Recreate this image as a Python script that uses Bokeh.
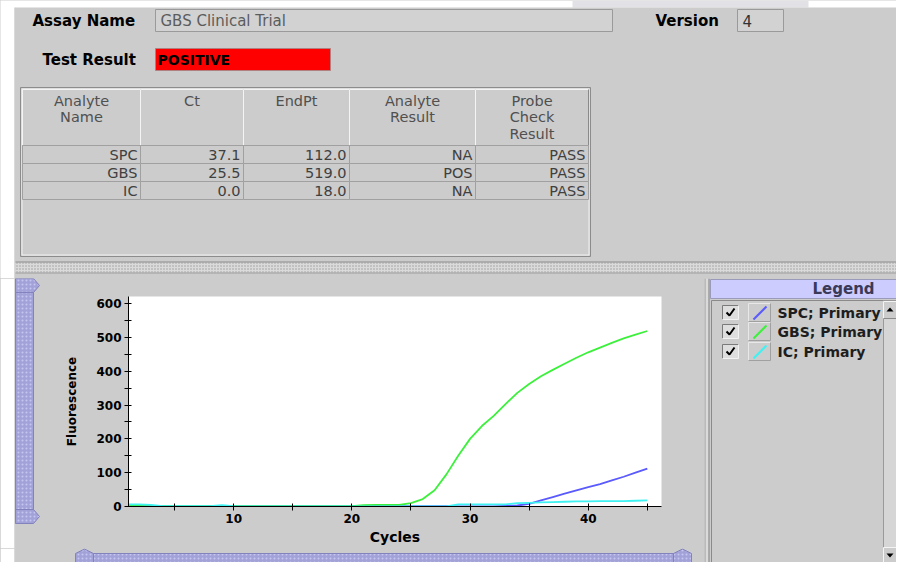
from bokeh.plotting import figure
from bokeh.layouts import column, row
from bokeh.models import Range1d, FixedTicker
from bokeh.core.properties import value
from bokeh.embed import file_html
from bokeh.resources import INLINE

# ---------------- data ----------------
cycles = list(range(1, 46))
spc = [1, 1, 1, 1, 1, 1, 1, 1, 1, 1, 1, 1, 1, 1, 1, 1, 1, 1, 1, 1,
       1, 1, 1, 1, 1, 1, 1, 1, 0, 0, 0, 0, 2, 3, 8,
       18, 28, 38, 48, 57, 66, 77, 88, 100, 112]
gbs = [2, 2, 1, 1, 1, 1, 1, 1, 2, 1, 1, 1, 1, 1, 1, 1, 1, 1, 1, 1,
       4, 5, 5, 5, 10, 22, 48, 95, 150, 200, 238, 268, 303, 336, 362,
       385, 404, 422, 440, 456, 470, 484, 497, 508, 519]
ic = [6, 6, 5, 1, 1, 1, 1, 1, 4, 1, 0, 0, 0, 0, 0, 0, 0, 0, 0, 0,
      0, 0, 0, 0, 0, 0, 0, 0, 6, 6, 6, 6, 6, 10, 11,
      12, 13, 14, 15, 15, 16, 16, 16, 17, 18]
series = [spc, gbs, ic]
series_colors = ["#5a5aff", "#3cf03c", "#3ef2f2"]
legend_labels = ["SPC; Primary", "GBS; Primary", "IC; Primary"]

y_ticks = [0, 100, 200, 300, 400, 500, 600]
y_minor = [50, 150, 250, 350, 450, 550]
x_ticks = [10, 20, 30, 40]
x_minor = [5, 15, 25, 35, 45]

assay_name = "GBS Clinical Trial"
version = "4"
test_result = "POSITIVE"
table_headers = ["Analyte\nName", "Ct", "EndPt", "Analyte\nResult", "Probe\nCheck\nResult"]
analytes = ["SPC", "GBS", "IC"]
ct_values = [37.1, 25.5, 0.0]
endpt_values = [112.0, 519.0, 18.0]
analyte_results = ["NA", "POS", "NA"]
probe_checks = ["PASS", "PASS", "PASS"]

# ---------------- styles ----------------
GRAY = "#cccccc"
LAV = "#a2a2d8"
LAV_DOT = "#c6c6f0"
LAV_EDGE = "#8282bc"
FONT = value("DejaVu Sans")


def deco_fig(x0, x1, y0, y1, bg=GRAY):
    p = figure(width=x1 - x0, height=y1 - y0,
               x_range=Range1d(x0, x1), y_range=Range1d(y1, y0),
               x_axis_location=None, y_axis_location=None,
               output_backend="svg", toolbar_location=None, min_border=0)
    p.grid.visible = False
    p.outline_line_color = None
    p.background_fill_color = bg
    p.border_fill_color = bg
    p.frame_align = False
    return p


def txt(p, x, y, s, size="15px", bold=False, color="#000000", align="left"):
    p.text(x=[x], y=[y], text=[s], text_font=FONT, text_font_size=size,
           text_font_style="bold" if bold else "normal", text_color=color,
           text_align=align, text_baseline="middle")


def raised(p, x0, x1, y0, y1, fill=GRAY, light="#f4f4f4", dark="#8a8a8a"):
    p.quad(left=[x0], right=[x1], top=[y0], bottom=[y1], fill_color=fill, line_color=None)
    p.multi_line(xs=[[x0, x0, x1], [x0, x1, x1]], ys=[[y1, y0, y0], [y1, y1, y0]],
                 line_color=[light, dark], line_width=1)


def sunken(p, x0, x1, y0, y1, fill=GRAY):
    raised(p, x0, x1, y0, y1, fill=fill, light="#7a7a7a", dark="#f2f2f2")


# ---------------- top panel ----------------
top = deco_fig(0, 896, 0, 278, bg="#ffffff")
top.quad(left=[572], right=[808], top=[0], bottom=[7], fill_color="#e2e2e6", line_color=None)
top.quad(left=[15], right=[896], top=[7], bottom=[278], fill_color=GRAY, line_color=None)
top.line(x=[14.5, 14.5], y=[7, 278], line_color="#b4b4b4")

txt(top, 32, 20, "Assay Name", bold=True)
top.quad(left=[155], right=[612], top=[9], bottom=[31], fill_color="#d2d2d2", line_color="#9a9a9a")
txt(top, 160, 20, assay_name, color="#5c5c5c")

txt(top, 655, 20, "Version", bold=True)
top.quad(left=[737], right=[783], top=[9], bottom=[31], fill_color="#d2d2d2", line_color="#9a9a9a")
txt(top, 742, 20, version, color="#333333")

txt(top, 42, 59, "Test Result", bold=True)
top.quad(left=[155], right=[330], top=[48], bottom=[70], fill_color="#ff0000", line_color="#b08080")
txt(top, 157, 59, test_result, bold=True, color="#000000", size="14px")

# table
cols = [22, 140, 243, 349, 475, 588]
top.quad(left=[20], right=[590], top=[87], bottom=[256], fill_color=GRAY, line_color="#8c8c8c")
top.quad(left=[21.5], right=[588.5], top=[88.5], bottom=[254.5], fill_color=None, line_color="#f0f0f0")
for i, h in enumerate(table_headers):
    raised(top, cols[i], cols[i + 1], 89, 145)
    cx = (cols[i] + cols[i + 1]) / 2
    for k, line in enumerate(h.split("\n")):
        txt(top, cx, 100 + 16.5 * k, line, color="#505050", align="center", size="14.5px")

row_tops = [145, 163, 181]
cells = [analytes, ["%.1f" % v for v in ct_values], ["%.1f" % v for v in endpt_values],
         analyte_results, probe_checks]
for r, yt in enumerate(row_tops):
    for i in range(5):
        top.quad(left=[cols[i]], right=[cols[i + 1]], top=[yt], bottom=[yt + 18],
                 fill_color=GRAY, line_color="#a0a0a0")
        txt(top, cols[i + 1] - 3, yt + 9.5, cells[i][r], color="#404040", align="right",
            size="14.5px")

# split divider
top.quad(left=[15], right=[896], top=[262], bottom=[272], fill_color="#dadada",
         line_color=None, hatch_pattern=".", hatch_color="#9a9a9a", hatch_scale=3)
top.multi_line(xs=[[15, 896], [15, 896]], ys=[[261.5, 261.5], [272.5, 272.5]],
               line_color=["#8c8c8c", "#9c9c9c"], line_width=1)

# ---------------- left vertical slider ----------------
left = deco_fig(0, 40, 278, 548)
left.quad(left=[0], right=[15], top=[278], bottom=[548], fill_color="#ffffff", line_color=None)
left.line(x=[14.5, 14.5], y=[278, 548], line_color="#b4b4b4")
left.quad(left=[15], right=[33], top=[291], bottom=[510], fill_color=LAV, line_color=LAV_EDGE,
          hatch_pattern=".", hatch_color=LAV_DOT, hatch_scale=4)
left.patches(xs=[[15, 33, 39, 33, 15], [15, 33, 39, 33, 15]],
             ys=[[278, 278, 285, 292, 292], [509, 509, 516, 523, 523]],
             fill_color=LAV, line_color=LAV_EDGE,
             hatch_pattern=".", hatch_color=LAV_DOT, hatch_scale=4)

# ---------------- chart ----------------
chart = figure(width=664, height=270, x_range=Range1d(1.1, 46.2), y_range=Range1d(0, 621),
               output_backend="svg", toolbar_location=None,
               min_border_left=88, min_border_right=43, min_border_top=18, min_border_bottom=42)
chart.frame_align = False
chart.background_fill_color = "#ffffff"
chart.border_fill_color = GRAY
chart.outline_line_color = None
chart.grid.visible = False
for s, c in zip(series, series_colors):
    chart.line(cycles, s, line_color=c, line_width=1.8)

chart.xaxis.ticker = FixedTicker(ticks=x_ticks, minor_ticks=x_minor)
chart.yaxis.ticker = FixedTicker(ticks=y_ticks, minor_ticks=y_minor)
chart.xaxis.axis_label = "Cycles"
chart.yaxis.axis_label = "Fluorescence"
for ax in (chart.xaxis[0], chart.yaxis[0]):
    ax.axis_line_color = "#000000"
    ax.major_tick_line_color = "#000000"
    ax.minor_tick_line_color = "#000000"
    ax.major_tick_in = 3
    ax.major_tick_out = 4
    ax.minor_tick_in = 3
    ax.minor_tick_out = 4
    ax.major_label_text_font = "DejaVu Sans"
    ax.major_label_text_font_size = "12px"
    ax.major_label_text_font_style = "bold"
    ax.major_label_text_color = "#000000"
    ax.major_label_standoff = 3
    ax.axis_label_text_font = "DejaVu Sans"
    ax.axis_label_text_font_style = "bold"
    ax.axis_label_text_color = "#000000"
chart.xaxis.axis_label_text_font_size = "14px"
chart.xaxis.axis_label_standoff = 3
chart.yaxis.axis_label_text_font_size = "12px"
chart.yaxis.axis_label_standoff = 14

# ---------------- bottom horizontal slider ----------------
hs = deco_fig(0, 704, 548, 562)
hs.quad(left=[0], right=[15], top=[548], bottom=[562], fill_color="#ffffff", line_color=None)
hs.line(x=[14.5, 14.5], y=[548, 562], line_color="#b4b4b4")
hs.quad(left=[93], right=[673], top=[553], bottom=[562], fill_color=LAV, line_color=LAV_EDGE,
        hatch_pattern=".", hatch_color=LAV_DOT, hatch_scale=4)
hs.patches(xs=[[75, 75, 84, 93, 93], [673, 673, 682, 691, 691]],
           ys=[[562, 553, 548.5, 553, 562], [562, 553, 548.5, 553, 562]],
           fill_color=LAV, line_color=LAV_EDGE,
           hatch_pattern=".", hatch_color=LAV_DOT, hatch_scale=4)

# ---------------- legend panel ----------------
leg = deco_fig(704, 896, 278, 562)
leg.quad(left=[704], right=[709], top=[278], bottom=[562], fill_color="#dadada", line_color=None)
leg.multi_line(xs=[[704.5, 704.5], [708.5, 708.5]], ys=[[278, 562], [278, 562]],
               line_color=["#9a9a9a", "#7c7c7c"], line_width=1)
leg.quad(left=[710], right=[896], top=[279], bottom=[298], fill_color="#ccccff", line_color="#9a9aba")
txt(leg, 812, 288.5, "Legend", bold=True, color="#3a3a58")
leg.quad(left=[711], right=[883], top=[300], bottom=[562], fill_color=GRAY, line_color="#8a8a8a")
# scrollbar
leg.quad(left=[883], right=[896], top=[300], bottom=[562], fill_color="#d6d6d6", line_color="#9a9a9a")
raised(leg, 883, 896, 301, 318)
raised(leg, 883, 896, 547, 562)
leg.patches(xs=[[886, 893, 889.5], [886, 893, 889.5]], ys=[[311, 311, 307], [553, 553, 557]],
            fill_color="#000000", line_color=None)

row_y = [312, 331, 351]
for yc, lab, c in zip(row_y, legend_labels, series_colors):
    sunken(leg, 722, 738, yc - 7, yc + 7, fill="#dedede")
    leg.line(x=[726, 729, 734], y=[yc, yc + 3, yc - 4], line_color="#000000", line_width=2)
    raised(leg, 748, 770, yc - 9, yc + 9, light="#e8e8e8", dark="#a0a0a0")
    leg.line(x=[753, 766], y=[yc + 7, yc - 6], line_color=c, line_width=2)
    txt(leg, 777, yc, lab, bold=True, color="#1e1e1e", size="14px")

bg = {"background-color": GRAY}
upper = row(left, chart, spacing=0, styles=bg)
mid = column(upper, hs, spacing=0, styles=bg)
bottom = row(mid, leg, spacing=0, styles=bg)
layout = column(top, bottom, spacing=0, styles=bg)
open("out.html", "w").write(file_html(layout, INLINE))
